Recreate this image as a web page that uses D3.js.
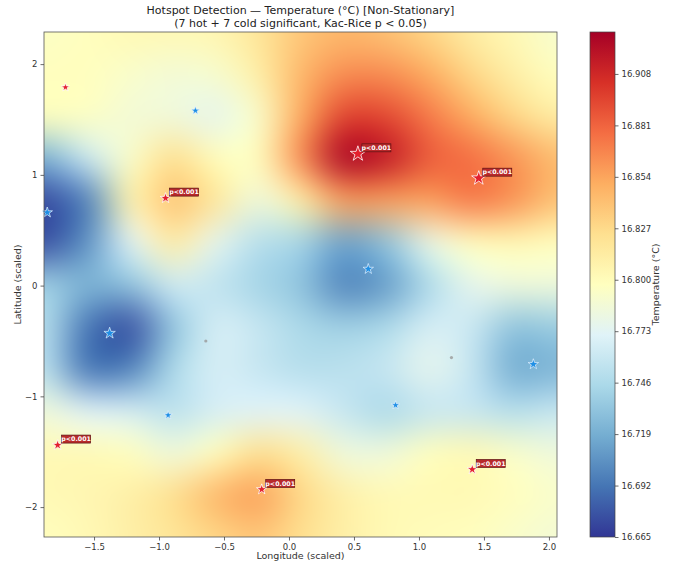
<!DOCTYPE html>
<html>
<head>
<meta charset="utf-8">
<script src="https://cdn.jsdelivr.net/npm/d3@7"></script>
<style>
  body { margin: 0; background: #fff; }
  svg { display: block; font-family: "DejaVu Sans", sans-serif; }
</style>
</head>
<body>
<div id="chart"></div>
<script>
// field grid (deg C)
const lonGrid = [-1.88, -1.55, -1.22, -0.89, -0.56, -0.23, 0.09, 0.42, 0.75, 1.08, 1.41, 1.74, 2.06];
const latGrid = [2.29, 1.91, 1.53, 1.15, 0.77, 0.39, 0.01, -0.37, -0.75, -1.13, -1.51, -1.89, -2.27];
const tempGrid = [
  [16.795, 16.798, 16.803, 16.803, 16.805, 16.819, 16.837, 16.845, 16.840, 16.829, 16.813, 16.803, 16.790],
  [16.798, 16.798, 16.792, 16.787, 16.790, 16.811, 16.845, 16.864, 16.864, 16.851, 16.829, 16.811, 16.798],
  [16.798, 16.795, 16.787, 16.785, 16.776, 16.792, 16.851, 16.895, 16.893, 16.872, 16.851, 16.829, 16.813],
  [16.721, 16.760, 16.792, 16.824, 16.800, 16.798, 16.864, 16.927, 16.917, 16.885, 16.877, 16.861, 16.843],
  [16.674, 16.697, 16.808, 16.840, 16.819, 16.784, 16.811, 16.856, 16.856, 16.856, 16.872, 16.861, 16.840],
  [16.676, 16.705, 16.771, 16.813, 16.776, 16.750, 16.742, 16.713, 16.731, 16.779, 16.798, 16.803, 16.798],
  [16.739, 16.723, 16.731, 16.763, 16.755, 16.742, 16.731, 16.699, 16.710, 16.745, 16.776, 16.784, 16.784],
  [16.750, 16.692, 16.676, 16.731, 16.766, 16.758, 16.745, 16.739, 16.745, 16.766, 16.760, 16.731, 16.737],
  [16.752, 16.692, 16.697, 16.745, 16.766, 16.758, 16.750, 16.752, 16.758, 16.776, 16.758, 16.718, 16.723],
  [16.784, 16.771, 16.766, 16.752, 16.766, 16.771, 16.771, 16.758, 16.745, 16.758, 16.758, 16.750, 16.758],
  [16.803, 16.803, 16.798, 16.784, 16.798, 16.824, 16.811, 16.784, 16.784, 16.798, 16.803, 16.792, 16.784],
  [16.803, 16.805, 16.811, 16.824, 16.845, 16.856, 16.829, 16.811, 16.803, 16.803, 16.803, 16.798, 16.792],
  [16.798, 16.803, 16.811, 16.819, 16.829, 16.837, 16.824, 16.811, 16.803, 16.800, 16.798, 16.792, 16.787]
];

// significant hotspots / coldspots
const hotLon = [-1.72, -0.95, 0.53, 1.46, -1.78, -0.21, 1.41];
const hotLat = [1.79, 0.79, 1.19, 0.97, -1.44, -1.84, -1.66];
const hotLabel = [null, 'p<0.001', 'p<0.001', 'p<0.001', 'p<0.001', 'p<0.001', 'p<0.001'];
const coldLon = [-0.72, -1.86, 0.61, -1.38, -0.93, 0.82, 1.88];
const coldLat = [1.58, 0.66, 0.15, -0.43, -1.17, -1.08, -0.71];
// non-significant extrema
const otherLon = [-0.64, 1.25];
const otherLat = [-0.50, -0.65];

const xTicks = [-1.5, -1.0, -0.5, 0.0, 0.5, 1.0, 1.5, 2.0];
const yTicks = [-2, -1, 0, 1, 2];
const cbTicks = [16.665, 16.692, 16.719, 16.746, 16.773, 16.800, 16.827, 16.854, 16.881, 16.908];
const vmin = 16.665, vmax = 16.930;

// ---- layout / style
const width = 673, height = 564;
const plot = { left: 44, top: 32, right: 557, bottom: 537 };
const cb = { left: 590, right: 615 };
const hotR = [4.5, 5.5, 8, 7.5, 5.5, 5.5, 5.5];
const coldR = [4.5, 5.5, 5.5, 6, 4.5, 4.5, 5.5];
const cmap = ['#313695', '#4575b4', '#74add1', '#abd9e9', '#e0f3f8', '#ffffbf',
  '#fee090', '#fdae61', '#f46d43', '#d73027', '#a50026'];

const x = d3.scaleLinear().domain([-1.885, 2.062]).range([plot.left, plot.right]);
const y = d3.scaleLinear().domain([-2.27, 2.29]).range([plot.bottom, plot.top]);
const color = d3.scaleLinear()
  .domain(cmap.map((c, i) => vmin + (vmax - vmin) * i / (cmap.length - 1)))
  .range(cmap)
  .clamp(true);

const svg = d3.select('#chart').append('svg')
  .attr('width', width)
  .attr('height', height);

// ---- heat field: grid colours -> small image, smoothed up to plot size
const pw = plot.right - plot.left, ph = plot.bottom - plot.top;
const nx = lonGrid.length, ny = latGrid.length, pad = 3;
const small = document.createElement('canvas');
small.width = nx + 2 * pad;
small.height = ny + 2 * pad;
const sctx = small.getContext('2d');
const imgData = sctx.createImageData(small.width, small.height);
for (let j = 0; j < small.height; j++) {
  for (let i = 0; i < small.width; i++) {
    const gi = Math.max(0, Math.min(nx - 1, i - pad));
    const gj = Math.max(0, Math.min(ny - 1, j - pad));
    const c = d3.rgb(color(tempGrid[gj][gi]));
    const k = 4 * (j * small.width + i);
    imgData.data[k] = c.r;
    imgData.data[k + 1] = c.g;
    imgData.data[k + 2] = c.b;
    imgData.data[k + 3] = 255;
  }
}
sctx.putImageData(imgData, 0, 0);

const cw = (x(lonGrid[nx - 1]) - x(lonGrid[0])) / (nx - 1);
const chh = (y(latGrid[ny - 1]) - y(latGrid[0])) / (ny - 1);
const m = 70;
const big = document.createElement('canvas');
big.width = pw + 2 * m;
big.height = ph + 2 * m;
const bctx = big.getContext('2d');
bctx.imageSmoothingEnabled = true;
bctx.imageSmoothingQuality = 'high';
bctx.drawImage(small,
  m + x(lonGrid[0]) - plot.left - (pad + 0.5) * cw,
  m + y(latGrid[0]) - plot.top - (pad + 0.5) * chh,
  small.width * cw, small.height * chh);

const out = document.createElement('canvas');
out.width = pw;
out.height = ph;
const octx = out.getContext('2d');
octx.filter = 'blur(10px)';
octx.drawImage(big, -m, -m);

svg.append('image')
  .attr('x', plot.left).attr('y', plot.top)
  .attr('width', pw).attr('height', ph)
  .attr('preserveAspectRatio', 'none')
  .attr('href', out.toDataURL());

// ---- markers
const star = r => d3.symbol().type(d3.symbolStar).size(r * r / 0.8908130915292852)();

svg.append('g').selectAll('circle')
  .data(otherLon)
  .join('circle')
  .attr('cx', d => x(d))
  .attr('cy', (d, i) => y(otherLat[i]))
  .attr('r', 1.6)
  .attr('fill', '#9a9a9a')
  .attr('opacity', 0.8);

svg.append('g').selectAll('path')
  .data(coldLon)
  .join('path')
  .attr('transform', (d, i) => `translate(${x(d)},${y(coldLat[i])})`)
  .attr('d', (d, i) => star(coldR[i]))
  .attr('fill', '#1f8fe5')
  .attr('stroke', '#e8f4ff')
  .attr('stroke-width', 0.7);

svg.append('g').selectAll('path')
  .data(hotLon)
  .join('path')
  .attr('transform', (d, i) => `translate(${x(d)},${y(hotLat[i])})`)
  .attr('d', (d, i) => star(hotR[i]))
  .attr('fill', '#e3202e')
  .attr('stroke', '#fff')
  .attr('stroke-width', 0.8);

// p-value tags
const tags = svg.append('g').selectAll('g')
  .data(hotLon.map((d, i) => i).filter(i => hotLabel[i]))
  .join('g')
  .attr('transform', i => `translate(${x(hotLon[i]) + 4},${y(hotLat[i]) - 10})`);
tags.append('rect')
  .attr('width', 29).attr('height', 8)
  .attr('fill', '#b8292b')
  .attr('stroke', '#5a1414')
  .attr('stroke-width', 0.7);
tags.append('text')
  .attr('x', 14.5).attr('y', 6.2)
  .attr('text-anchor', 'middle')
  .attr('font-size', 6.3)
  .attr('font-weight', 'bold')
  .attr('fill', '#fff')
  .text(i => hotLabel[i]);

// ---- frame + axes
svg.append('rect')
  .attr('x', plot.left).attr('y', plot.top)
  .attr('width', pw).attr('height', ph)
  .attr('fill', 'none')
  .attr('stroke', '#555')
  .attr('stroke-width', 0.8);

const xAxis = svg.append('g')
  .attr('transform', `translate(0,${plot.bottom})`)
  .call(d3.axisBottom(x).tickValues(xTicks).tickFormat(d3.format('.1f')).tickSize(3.5).tickPadding(3));
const yAxis = svg.append('g')
  .attr('transform', `translate(${plot.left},0)`)
  .call(d3.axisLeft(y).tickValues(yTicks).tickFormat(d3.format('d')).tickSize(3.5).tickPadding(3));
[xAxis, yAxis].forEach(a => {
  a.select('.domain').remove();
  a.selectAll('line').attr('stroke', '#444').attr('stroke-width', 0.8);
  a.selectAll('text').attr('font-size', 8.5).attr('fill', '#333')
    .attr('font-family', '"DejaVu Sans", sans-serif');
});

svg.append('text')
  .attr('x', (plot.left + plot.right) / 2).attr('y', 559)
  .attr('text-anchor', 'middle')
  .attr('font-size', 9.5).attr('fill', '#333')
  .text('Longitude (scaled)');
svg.append('text')
  .attr('transform', `translate(21,${(plot.top + plot.bottom) / 2}) rotate(-90)`)
  .attr('text-anchor', 'middle')
  .attr('font-size', 9.5).attr('fill', '#333')
  .text('Latitude (scaled)');

// title
svg.append('text')
  .attr('x', (plot.left + plot.right) / 2).attr('y', 14)
  .attr('text-anchor', 'middle')
  .attr('font-size', 11).attr('fill', '#222')
  .text('Hotspot Detection — Temperature (°C) [Non-Stationary]');
svg.append('text')
  .attr('x', (plot.left + plot.right) / 2).attr('y', 27)
  .attr('text-anchor', 'middle')
  .attr('font-size', 11).attr('fill', '#222')
  .text('(7 hot + 7 cold significant, Kac-Rice p < 0.05)');

// ---- colorbar
const cy = d3.scaleLinear().domain([vmin, vmax]).range([plot.bottom, plot.top]);
const grad = svg.append('defs').append('linearGradient')
  .attr('id', 'cbgrad')
  .attr('x1', 0).attr('y1', 1).attr('x2', 0).attr('y2', 0);
grad.selectAll('stop')
  .data(cmap)
  .join('stop')
  .attr('offset', (d, i) => i / (cmap.length - 1))
  .attr('stop-color', d => d);

svg.append('rect')
  .attr('x', cb.left).attr('y', plot.top)
  .attr('width', cb.right - cb.left).attr('height', ph)
  .attr('fill', 'url(#cbgrad)')
  .attr('stroke', '#444')
  .attr('stroke-width', 0.7);

const cAxis = svg.append('g')
  .attr('transform', `translate(${cb.right},0)`)
  .call(d3.axisRight(cy).tickValues(cbTicks).tickFormat(d3.format('.3f')).tickSize(3.5).tickPadding(3));
cAxis.select('.domain').remove();
cAxis.selectAll('line').attr('stroke', '#444').attr('stroke-width', 0.8);
cAxis.selectAll('text').attr('font-size', 8.5).attr('fill', '#333')
  .attr('font-family', '"DejaVu Sans", sans-serif');

svg.append('text')
  .attr('transform', `translate(659,${(plot.top + plot.bottom) / 2}) rotate(-90)`)
  .attr('text-anchor', 'middle')
  .attr('font-size', 9.5).attr('fill', '#333')
  .text('Temperature (°C)');
</script>
</body>
</html>
